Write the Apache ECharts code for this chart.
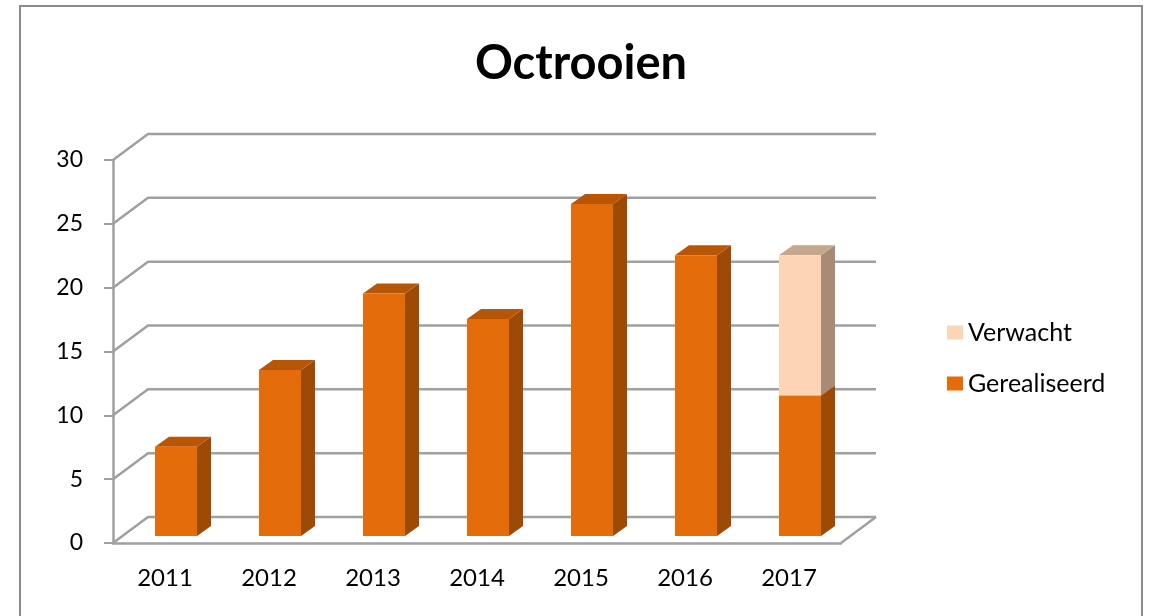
<!DOCTYPE html>
<html>
<head>
<meta charset="utf-8">
<script src="https://cdn.jsdelivr.net/npm/echarts@6/dist/echarts.min.js"></script>
<style>
html,body{margin:0;padding:0;background:#fff;}
#chart{width:1151px;height:616px;}
</style>
</head>
<body>
<div id="chart"></div>
<script>
// data
var years = ['2011', '2012', '2013', '2014', '2015', '2016', '2017'];
var gerealiseerd = [7, 13, 19, 17, 26, 22, 11];
var verwacht = [0, 0, 0, 0, 0, 0, 11];
var yTicks = [0, 5, 10, 15, 20, 25, 30];

var FONT = 'Lato';
var LINE = '#a0a0a0';
// 3d offsets (px)
var WALL = [35, -26];   // front -> back wall
var PLANE = [11, -7];   // front -> bar plane
var DEPTH = [14, -10];  // bar depth
var BAR_W = 42;

var chart = echarts.init(document.getElementById('chart'));

function wallItem(params, api) {
    var v = api.value(0);
    var a = api.coord([0, v]);
    var b = api.coord([years.length, v]);
    var kids = [{
        type: 'polyline',
        shape: { points: [a, [a[0] + WALL[0], a[1] + WALL[1]], [b[0] + WALL[0], b[1] + WALL[1]]] },
        style: { stroke: LINE, lineWidth: 2.5, fill: null }
    }];
    if (v === 0) {
        kids.push({
            type: 'line',
            shape: { x1: b[0], y1: b[1], x2: b[0] + WALL[0], y2: b[1] + WALL[1] },
            style: { stroke: LINE, lineWidth: 2.5 }
        });
    }
    return { type: 'group', children: kids };
}

function barMaker(front, side, top) {
    return function (params, api) {
        var lo = api.coord([api.value(0), api.value(1)]);
        var hi = api.coord([api.value(0), api.value(2)]);
        var x0 = lo[0] + PLANE[0] - BAR_W / 2, x1 = x0 + BAR_W;
        var yb = lo[1] + PLANE[1], yt = hi[1] + PLANE[1];
        var dx = DEPTH[0], dy = DEPTH[1];
        return {
            type: 'group',
            children: [{
                type: 'polygon',
                shape: { points: [[x1, yb], [x1 + dx, yb + dy], [x1 + dx, yt + dy], [x1, yt]] },
                style: { fill: side }
            }, {
                type: 'polygon',
                shape: { points: [[x0, yt], [x1, yt], [x1 + dx, yt + dy], [x0 + dx, yt + dy]] },
                style: { fill: top }
            }, {
                type: 'rect',
                shape: { x: x0, y: yt, width: BAR_W, height: yb - yt },
                style: { fill: front }
            }]
        };
    };
}

var gerData = [], verData = [];
for (var i = 0; i < years.length; i++) {
    gerData.push([i + 0.5, 0, gerealiseerd[i]]);
    if (verwacht[i] > 0) verData.push([i + 0.5, gerealiseerd[i], gerealiseerd[i] + verwacht[i]]);
}

var option = {
    animation: false,
    backgroundColor: '#fff',
    title: {
        text: 'Octrooien',
        left: 576,
        textAlign: 'center',
        top: 35,
        textStyle: { fontFamily: FONT, fontSize: 47, fontWeight: 'bold', color: '#000' }
    },
    graphic: [{
        type: 'rect',
        shape: { x: 20, y: 6, width: 1122, height: 640 },
        style: { fill: null, stroke: '#8c8c8c', lineWidth: 2 },
        silent: true
    }],
    legend: {
        data: ['Verwacht', 'Gerealiseerd'],
        orient: 'vertical',
        left: 942,
        top: 315,
        itemWidth: 16,
        itemHeight: 14,
        itemGap: 26,
        icon: 'rect',
        textStyle: { fontFamily: FONT, fontSize: 25, color: '#000', lineHeight: 25 }
    },
    grid: { left: 113, right: 310, top: 160, bottom: 73 },
    xAxis: [{
        type: 'category',
        data: years,
        boundaryGap: true,
        axisLine: { lineStyle: { color: LINE, width: 2.5 } },
        axisTick: { length: 8, lineStyle: { color: LINE, width: 2 } },
        axisLabel: { fontFamily: FONT, fontSize: 24, color: '#000', margin: 23 }
    }, {
        type: 'value',
        min: 0,
        max: years.length,
        show: false
    }],
    yAxis: {
        type: 'value',
        min: 0,
        max: 30,
        interval: 5,
        axisLine: { show: true, lineStyle: { color: LINE, width: 2.5 } },
        axisTick: { show: true, length: 9, lineStyle: { color: LINE, width: 2 } },
        axisLabel: { fontFamily: FONT, fontSize: 23, color: '#000', margin: 30 },
        splitLine: { show: false }
    },
    series: [{
        type: 'custom',
        name: 'walls',
        xAxisIndex: 1,
        data: yTicks.map(function (v) { return [v]; }),
        encode: { y: 0 },
        renderItem: wallItem,
        silent: true,
        z: 1
    }, {
        type: 'custom',
        name: 'Gerealiseerd',
        xAxisIndex: 1,
        data: gerData,
        encode: { x: 0, y: [1, 2] },
        itemStyle: { color: '#e46c0a' },
        renderItem: barMaker('#e46c0a', '#9c4a06', '#b85608'),
        z: 2
    }, {
        type: 'custom',
        name: 'Verwacht',
        xAxisIndex: 1,
        data: verData,
        encode: { x: 0, y: [1, 2] },
        itemStyle: { color: '#fcd5b5' },
        renderItem: barMaker('#fcd5b5', '#a88b76', '#c6a68c'),
        z: 3
    }]
};

chart.setOption(option);
</script>
</body>
</html>
